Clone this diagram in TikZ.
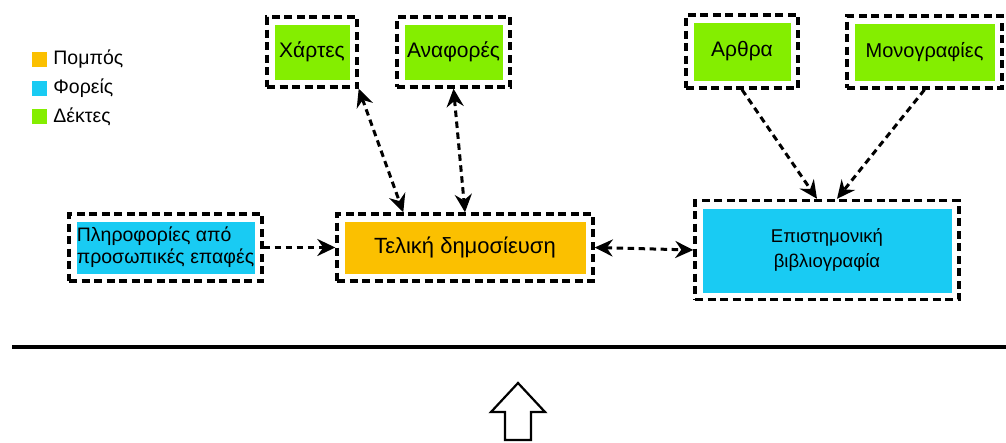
\documentclass[tikz,border=0pt]{standalone}
\usepackage{fontspec}
\setmainfont{Liberation Sans}
\usetikzlibrary{arrows.meta,calc}
\definecolor{pompos}{HTML}{FBC000}
\definecolor{foreas}{HTML}{19CBF3}
\definecolor{dektis}{HTML}{84EE00}
\tikzset{
  box/.style={draw=black, line width=3.4pt, dash pattern=on 8pt off 4.5pt,
    inner sep=0pt, align=center, font=\fontsize{20}{23}\selectfont},
  inset/.style={path picture={\fill[#1]
      ([shift={(8pt,-8pt)}]path picture bounding box.north west) rectangle
      ([shift={(-7pt,7pt)}]path picture bounding box.south east);}},
  tip/.style={Stealth[length=18pt,width=17pt,inset=6pt]},
  conn/.style={line width=3pt, dash pattern=on 6.5pt off 4.5pt, -{Stealth[length=18pt,width=17pt,inset=6pt]}},
  biconn/.style={conn, {Stealth[length=18pt,width=17pt,inset=6pt]}-{Stealth[length=18pt,width=17pt,inset=6pt]}},
  legsq/.style={minimum size=15pt, inner sep=0pt},
  legtxt/.style={anchor=west, inner sep=0pt, font=\fontsize{19.5}{21}\selectfont},
}
\begin{document}
\begin{tikzpicture}[x=1pt,y=-1pt]
\useasboundingbox (0,0) rectangle (1006,442);

% legend
\node[legsq, fill=pompos] (lp) at (39.5,59.5) {};
\node[legsq, fill=foreas] (lf) at (39.5,88) {};
\node[legsq, fill=dektis] (ld) at (39.5,116.5) {};
\node[legtxt] (tp) at ([xshift=6pt]lp.east) {Πομπός};
\node[legtxt] (tf) at ([xshift=6pt]lf.east) {Φορείς};
\node[legtxt] (td) at ([xshift=6pt]ld.east) {Δέκτες};

% boxes
\node[box, inset=dektis, minimum width=90pt, minimum height=70pt, font=\fontsize{21}{24}\selectfont] (chartes) at (312,52) {Χάρτες};
\node[box, inset=dektis, minimum width=113pt, minimum height=70pt, font=\fontsize{21}{24}\selectfont] (anafores) at (453.5,52) {Αναφορές};
\node[box, inset=dektis, minimum width=112pt, minimum height=73pt, font=\fontsize{21}{24}\selectfont] (arthra) at (742,51.5) {Αρθρα};
\node[box, inset=dektis, minimum width=155pt, minimum height=72pt] (monogr) at (924.5,52) {Μονογραφίες};
\node[box, inset=foreas, minimum width=193pt, minimum height=67pt, align=left, font=\fontsize{19.5}{22}\selectfont] (pliro) at (165.5,247.5) {Πληροφορίες από\\προσωπικές επαφές};
\node[box, inset=pompos, minimum width=256pt, minimum height=67pt, font=\fontsize{22}{25}\selectfont] (teliki) at (465,247.5) {Τελική δημοσίευση};
\node[box, inset=foreas, minimum width=264pt, minimum height=99pt, font=\fontsize{18.5}{25}\selectfont] (epist) at (827,250) {Επιστημονική\\βιβλιογραφία};

% connectors
\draw[biconn] (chartes.south east) -- ([xshift=68pt]teliki.north west);
\draw[biconn] (anafores.south) -- (teliki.north);
\draw[conn] (arthra.south) -- ([xshift=-10pt]epist.north);
\draw[conn] (monogr.south) -- ([xshift=10pt]epist.north);
\draw[conn] (pliro.east) -- (teliki.west);
\draw[biconn] (teliki.east) -- (epist.west);

% dividing rule and hollow arrow
\draw[line width=3.8pt] (12,347) -- (1006,347);
\draw[line width=2.2pt, line join=miter] (518,383) -- (545,412) -- (531,412) -- (531,440)
  -- (505,440) -- (505,412) -- (491,412) -- cycle;
\end{tikzpicture}
\end{document}
